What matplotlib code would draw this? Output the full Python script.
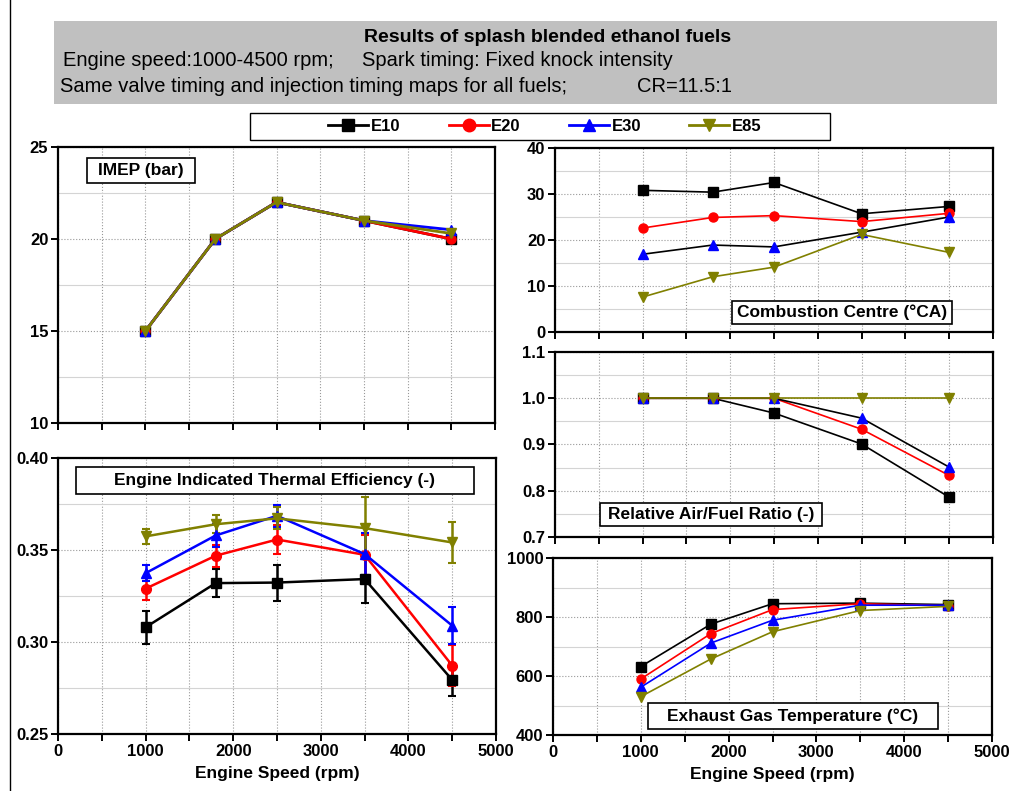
import matplotlib.pyplot as plt
from matplotlib.lines import Line2D
from matplotlib.patches import Rectangle
from matplotlib.ticker import MultipleLocator

plt.rcParams["font.family"] = ["Liberation Sans", "DejaVu Sans"]

speed = [1000, 1800, 2500, 3500, 4500]
fuels = ["E10", "E20", "E30", "E85"]
colors = ["black", "red", "blue", "#808000"]
markers = ["s", "o", "^", "v"]

# IMEP (bar)
imep = {
    "E10": [15.0, 20.0, 22.0, 21.0, 20.0],
    "E20": [15.0, 20.0, 22.0, 21.0, 20.0],
    "E30": [15.0, 20.0, 22.0, 21.0, 20.5],
    "E85": [15.0, 20.0, 22.0, 21.0, 20.3],
}
# indicated thermal efficiency and error bars
ite = {
    "E10": [0.308, 0.332, 0.3323, 0.3342, 0.2794],
    "E20": [0.329, 0.3469, 0.3557, 0.3474, 0.2872],
    "E30": [0.3374, 0.3579, 0.3686, 0.3478, 0.3089],
    "E85": [0.3574, 0.364, 0.3672, 0.3619, 0.3541],
}
ite_err = {
    "E10": [0.009, 0.0077, 0.0098, 0.013, 0.009],
    "E20": [0.006, 0.006, 0.008, 0.011, 0.011],
    "E30": [0.0045, 0.006, 0.006, 0.0114, 0.010],
    "E85": [0.004, 0.005, 0.006, 0.0168, 0.011],
}
# combustion centre (deg CA)
cc = {
    "E10": [30.8, 30.4, 32.5, 25.7, 27.3],
    "E20": [22.6, 24.9, 25.3, 24.0, 25.8],
    "E30": [16.9, 18.9, 18.5, 21.7, 25.0],
    "E85": [7.6, 12.0, 14.1, 21.2, 17.3],
}
# relative air/fuel ratio
lam = {
    "E10": [1.0, 1.0, 0.968, 0.901, 0.786],
    "E20": [1.0, 1.0, 1.0, 0.933, 0.833],
    "E30": [1.0, 1.0, 1.0, 0.957, 0.851],
    "E85": [1.0, 1.0, 1.0, 1.0, 1.0],
}
# exhaust gas temperature (C)
egt = {
    "E10": [632, 776, 845, 847, 842],
    "E20": [590, 744, 825, 845, 838],
    "E30": [562, 712, 789, 840, 840],
    "E85": [530, 658, 750, 822, 836],
}

W, H = 1015, 791
fig = plt.figure(figsize=(W / 100, H / 100), dpi=100)


def px_axes(x0, y0, x1, y1):
    return fig.add_axes([x0 / W, 1 - y1 / H, (x1 - x0) / W, (y1 - y0) / H])


def box(x0, y0, x1, y1, **kw):
    fig.add_artist(Rectangle((x0 / W, 1 - y1 / H), (x1 - x0) / W, (y1 - y0) / H,
                             transform=fig.transFigure, **kw))


def label_box(x0, y0, x1, y1, text):
    box(x0, y0, x1, y1, facecolor="white", edgecolor="black", lw=1.2, zorder=5)
    fig.text((x0 + x1) / 2 / W, 1 - (y0 + y1) / 2 / H, text, ha="center", va="center",
             fontsize=12.5, fontweight="bold", zorder=6)


def style(ax, ymin, ymax, ymaj, show_x):
    ax.set_xlim(0, 5000)
    ax.set_ylim(ymin, ymax)
    ax.xaxis.set_major_locator(MultipleLocator(1000))
    ax.xaxis.set_minor_locator(MultipleLocator(500))
    ax.yaxis.set_major_locator(MultipleLocator(ymaj))
    ax.yaxis.set_minor_locator(MultipleLocator(ymaj / 2))
    ax.grid(True, which="major", ls=":", color="#999999", lw=0.8)
    ax.grid(True, which="minor", axis="y", ls="-", color="#d4d4d4", lw=0.8)
    ax.grid(True, which="minor", axis="x", ls=":", color="#999999", lw=0.8)
    ax.set_axisbelow(True)
    for s in ax.spines.values():
        s.set_linewidth(1.6)
    ax.tick_params(which="both", direction="out", width=1.4)
    ax.tick_params(axis="x", which="both", length=5)
    ax.tick_params(axis="y", which="major", length=5)
    ax.tick_params(axis="y", which="minor", length=0)
    ax.tick_params(labelsize=12, pad=2)
    if not show_x:
        ax.tick_params(axis="x", labelbottom=False)
    else:
        ax.set_xlabel("Engine Speed (rpm)", fontsize=12.5, fontweight="bold", labelpad=5)


# header
box(54, 21, 997, 104, facecolor="#c0c0c0", edgecolor="none")
fig.text(548 / W, 1 - 37 / H, "Results of splash blended ethanol fuels",
         ha="center", va="center", fontsize=14, fontweight="bold")
fig.text(63 / W, 1 - 61 / H, "Engine speed:1000-4500 rpm;", ha="left", va="center", fontsize=14.5)
fig.text(362 / W, 1 - 61 / H, "Spark timing: Fixed knock intensity", ha="left", va="center", fontsize=14.5)
fig.text(60 / W, 1 - 87 / H, "Same valve timing and injection timing maps for all fuels;",
         ha="left", va="center", fontsize=14.5)
fig.text(637 / W, 1 - 87 / H, "CR=11.5:1", ha="left", va="center", fontsize=14.5)

# left border line
fig.add_artist(Line2D([10 / W, 10 / W], [0, 1], transform=fig.transFigure, color="black", lw=1))

# IMEP
ax1 = px_axes(58, 147, 495, 423)
for f, c, m in zip(fuels, colors, markers):
    ax1.plot(speed, imep[f], color=c, marker=m, ms=6.5, lw=2)
style(ax1, 10, 25, 5, False)

# thermal efficiency
ax2 = px_axes(58, 458, 496, 734)
for f, c, m in zip(fuels, colors, markers):
    ax2.errorbar(speed, ite[f], yerr=ite_err[f], color=c, marker=m, ms=7, lw=1.8,
                 elinewidth=1.8, capsize=3, capthick=1.5)
style(ax2, 0.25, 0.40, 0.05, True)
ax2.yaxis.set_major_formatter(plt.FormatStrFormatter("%.2f"))

# combustion centre
ax3 = px_axes(555, 148, 993, 332)
for f, c, m in zip(fuels, colors, markers):
    lc = "black" if f == "E30" else c
    ax3.plot(speed, cc[f], color=lc, marker=m, mfc=c, mec=c, ms=6.5, lw=1.2)
style(ax3, 0, 40, 10, False)

# lambda
ax4 = px_axes(555, 352, 993, 537)
for f, c, m in zip(fuels, colors, markers):
    lc = "black" if f == "E30" else c
    ax4.plot(speed, lam[f], color=lc, marker=m, mfc=c, mec=c, ms=6.5, lw=1.2)
style(ax4, 0.7, 1.1, 0.1, False)
ax4.yaxis.set_major_formatter(plt.FormatStrFormatter("%.1f"))

# EGT
ax5 = px_axes(553, 558, 992, 735)
for f, c, m in zip(fuels, colors, markers):
    ax5.plot(speed, egt[f], color=c, marker=m, ms=6.5, lw=1.2)
style(ax5, 400, 1000, 200, True)

for ax in [ax1, ax2, ax3, ax4, ax5]:
    for t in ax.get_xticklabels() + ax.get_yticklabels():
        t.set_fontweight("bold")

label_box(87, 158, 195, 183, "IMEP (bar)")
label_box(76, 467, 474, 494, "Engine Indicated Thermal Efficiency (-)")
label_box(732, 301, 952, 324, "Combustion Centre (\u00b0CA)")
label_box(600, 503, 822, 526, "Relative Air/Fuel Ratio (-)")
label_box(648, 703, 938, 729, "Exhaust Gas Temperature (\u00b0C)")

# legend: frame drawn separately, entries centred
box(250, 113, 830, 140, facecolor="white", edgecolor="black", lw=1.0)
handles = [Line2D([], [], color=c, marker=m, ms=9, lw=2) for c, m in zip(colors, markers)]
leg = fig.legend(handles, fuels, loc="center", ncol=4,
                 bbox_to_anchor=(545 / W, 1 - 126.5 / H),
                 frameon=False, handlelength=2.4, handletextpad=0.15,
                 columnspacing=2.9, prop={"weight": "bold", "size": 12})

fig.savefig("out.png", dpi=100)
